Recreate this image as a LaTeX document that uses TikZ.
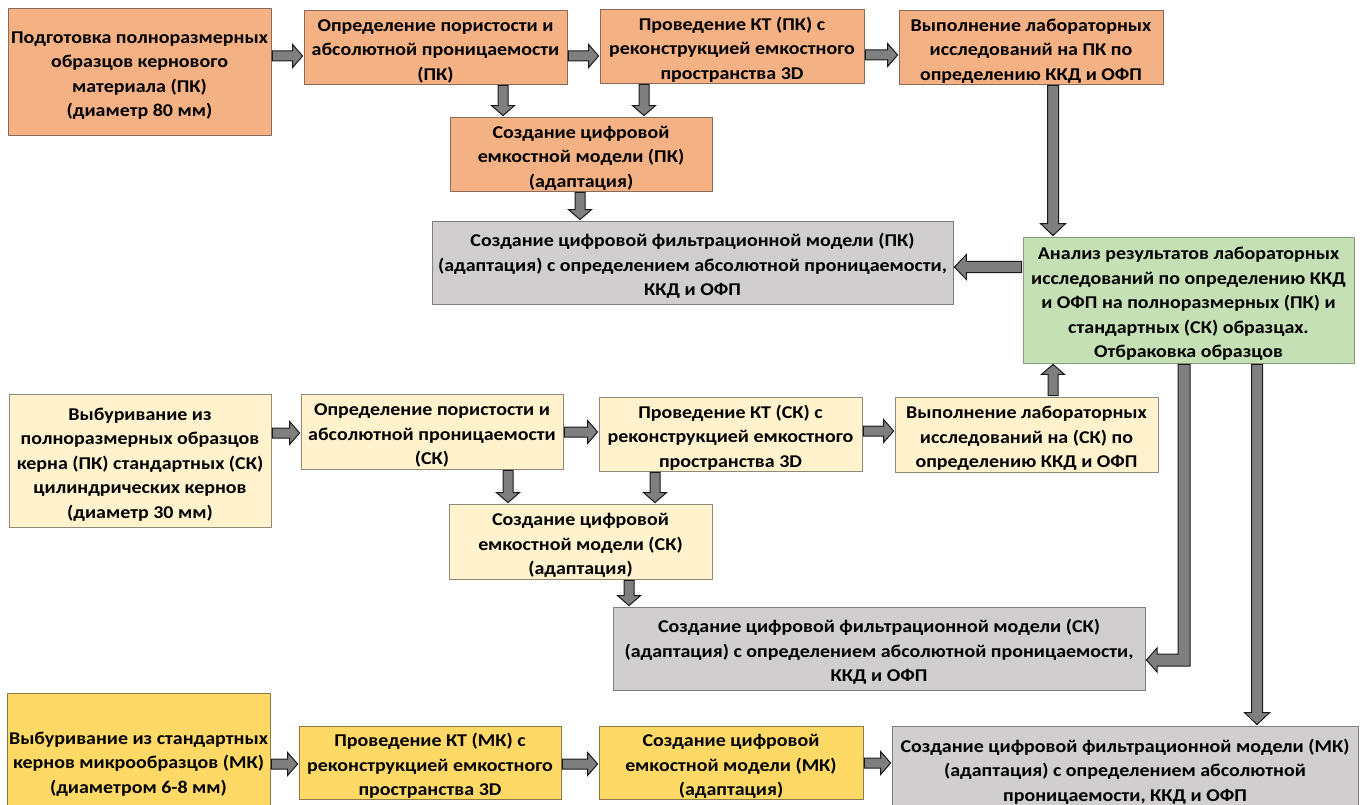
\documentclass[tikz,border=0pt]{standalone}
\usepackage{fontspec}
\setmainfont{Carlito}[FakeStretch=1.11]
\usetikzlibrary{calc}
\definecolor{orangeF}{HTML}{F4B183}
\definecolor{orangeD}{HTML}{8A6A58}
\definecolor{lyelF}{HTML}{FFF2CC}
\definecolor{lyelD}{HTML}{8F8A78}
\definecolor{yelF}{HTML}{FFD966}
\definecolor{yelD}{HTML}{8C7A4A}
\definecolor{grayF}{HTML}{D0CECE}
\definecolor{grayD}{HTML}{7F7F7F}
\definecolor{greenF}{HTML}{C5E0B4}
\definecolor{greenD}{HTML}{8A9A80}
\definecolor{arrF}{HTML}{7F7F7F}
\definecolor{arrD}{HTML}{1A1A1A}
\newcommand\tp{\rule{0pt}{20pt}}
\newcommand\blockarrow[5]{%
  \coordinate (ba0) at #4; \coordinate (bb0) at #5;
  \coordinate (ba) at ($(ba0)!1pt!(bb0)$);
  \coordinate (bb) at ($(bb0)!1pt!(ba0)$);
  \coordinate (bc) at ($(bb)!#3!(ba)$);
  \draw[barrow] ($(ba)!#1!90:(bb)$) -- ($(bc)!#1!-90:(ba)$) -- ($(bc)!#2!-90:(ba)$) -- (bb) -- ($(bc)!#2!90:(ba)$) -- ($(bc)!#1!90:(ba)$) -- ($(ba)!#1!-90:(bb)$) -- cycle;
}
\begin{document}
\begin{tikzpicture}[x=1pt,y=-1pt,
  box/.style={line width=0.8pt, inner sep=0pt, align=center,
    font=\bfseries\fontsize{18}{24.5}\selectfont},
  ora/.style={box, fill=orangeF, draw=orangeD},
  lye/.style={box, fill=lyelF, draw=lyelD},
  yel/.style={box, fill=yelF, draw=yelD},
  gry/.style={box, fill=grayF, draw=grayD},
  grn/.style={box, fill=greenF, draw=greenD},
  barrow/.style={fill=arrF, draw=arrD, line width=1pt, line join=miter}]
\useasboundingbox (0,0) rectangle (1363,805);
\clip (0,0) rectangle (1363,805);
\fill[white] (0,0) rectangle (1363,805);

% row 1
\node[ora, minimum width=263pt, minimum height=127pt] (A1) at (139.5,71.5)
  {\tp Подготовка полноразмерных\\образцов кернового\\материала (ПК)\\(диаметр 80 мм)};
\node[ora, minimum width=263pt, minimum height=74pt] (A2) at (435.5,47)
  {\tp Определение пористости и\\абсолютной проницаемости\\(ПК)};
\node[ora, minimum width=264pt, minimum height=74pt] (A3) at (732,46)
  {\tp Проведение КТ (ПК) с\\реконструкцией емкостного\\пространства 3D};
\node[ora, minimum width=264pt, minimum height=74pt] (A4) at (1031,47)
  {\tp Выполнение лабораторных\\исследований на ПК по\\определению ККД и ОФП};
\node[ora, minimum width=262pt, minimum height=74pt] (B1) at (581,154)
  {\tp Создание цифровой\\емкостной модели (ПК)\\(адаптация)};
\node[gry, minimum width=521pt, minimum height=83pt] (C1) at (692.5,262.5)
  {\tp Создание цифровой фильтрационной модели (ПК)\\(адаптация) с определением абсолютной проницаемости,\\ККД и ОФП};
\node[grn, minimum width=331pt, minimum height=126pt] (D) at (1188.5,300)
  {\tp Анализ результатов лабораторных\\исследований по определению ККД\\и ОФП на полноразмерных (ПК) и\\стандартных (СК) образцах.\\Отбраковка образцов};

% row 2
\node[lye, minimum width=262pt, minimum height=133pt] (E1) at (140,460.5)
  {\tp Выбуривание из\\полноразмерных образцов\\керна (ПК) стандартных (СК)\\цилиндрических кернов\\(диаметр 30 мм)};
\node[lye, minimum width=262pt, minimum height=75pt] (E2) at (432,431.5)
  {\tp Определение пористости и\\абсолютной проницаемости\\(СК)};
\node[lye, minimum width=263pt, minimum height=74pt] (E3) at (730.5,434)
  {\tp Проведение КТ (СК) с\\реконструкцией емкостного\\пространства 3D};
\node[lye, minimum width=263pt, minimum height=75pt] (E4) at (1026.5,434.5)
  {\tp Выполнение лабораторных\\исследований на (СК) по\\определению ККД и ОФП};
\node[lye, minimum width=263pt, minimum height=75pt] (F1) at (580.5,541.5)
  {\tp Создание цифровой\\емкостной модели (СК)\\(адаптация)};
\node[gry, minimum width=532pt, minimum height=83pt] (G1) at (879,648.5)
  {\tp Создание цифровой фильтрационной модели (СК)\\(адаптация) с определением абсолютной проницаемости,\\ККД и ОФП};

% row 3
\node[yel, minimum width=263pt, minimum height=134pt] (H1) at (138.5,760)
  {\tp Выбуривание из стандартных\\кернов микрообразцов (МК)\\(диаметром 6-8 мм)};
\node[yel, minimum width=262pt, minimum height=73pt] (H2) at (430,762.5)
  {\tp Проведение КТ (МК) с\\реконструкцией емкостного\\пространства 3D};
\node[yel, minimum width=264pt, minimum height=73pt] (H3) at (731,762.5)
  {\tp Создание цифровой\\емкостной модели (МК)\\(адаптация)};
\node[gry, minimum width=466pt, minimum height=84pt] (J) at (1125,768)
  {\tp Создание цифровой фильтрационной модели (МК)\\(адаптация) с определением абсолютной\\проницаемости, ККД и ОФП};

% small arrows
\blockarrow{5pt}{11.5pt}{10pt}{(A1.east |- 0,56)}{(A2.west |- 0,56)}
\blockarrow{5pt}{11.5pt}{10pt}{(A2.east |- 0,56)}{(A3.west |- 0,56)}
\blockarrow{5pt}{11.5pt}{10pt}{(A3.east |- 0,55)}{(A4.west |- 0,55)}
\blockarrow{5pt}{11.5pt}{10pt}{(A2.south -| 503,0)}{(B1.north -| 503,0)}
\blockarrow{5pt}{11.5pt}{10pt}{(A3.south -| 644,0)}{(B1.north -| 644,0)}
\blockarrow{5pt}{11.5pt}{10pt}{(B1.south -| 580,0)}{(C1.north -| 580,0)}
\blockarrow{5pt}{11.5pt}{10pt}{(E1.east |- 0,433)}{(E2.west |- 0,433)}
\blockarrow{5pt}{11.5pt}{10pt}{(E2.east |- 0,432)}{(E3.west |- 0,432)}
\blockarrow{5pt}{11.5pt}{10pt}{(E3.east |- 0,431)}{(E4.west |- 0,431)}
\blockarrow{5pt}{11.5pt}{10pt}{(E2.south -| 508,0)}{(F1.north -| 508,0)}
\blockarrow{5pt}{11.5pt}{10pt}{(E3.south -| 655,0)}{(F1.north -| 655,0)}
\blockarrow{5pt}{11.5pt}{10pt}{(F1.south -| 629,0)}{(G1.north -| 629,0)}
\blockarrow{5pt}{11.5pt}{10pt}{(H1.east |- 0,764)}{(H2.west |- 0,764)}
\blockarrow{5pt}{11.5pt}{10pt}{(H2.east |- 0,764)}{(H3.west |- 0,764)}
\blockarrow{5pt}{11.5pt}{10pt}{(H3.east |- 0,763)}{(J.west |- 0,763)}
\blockarrow{5pt}{11.5pt}{10pt}{(E4.north -| 1053,0)}{(D.south -| 1053,0)}
% long arrows
\blockarrow{5.5pt}{12.5pt}{12pt}{(A4.south -| 1053,0)}{(D.north -| 1053,0)}
\blockarrow{5.5pt}{12.5pt}{12pt}{(D.west |- 0,267)}{(C1.east |- 0,267)}
\blockarrow{5.5pt}{12.5pt}{12pt}{(D.south -| 1257,0)}{(J.north -| 1257,0)}
% elbow arrow D -> G1
\draw[barrow] ([yshift=-1pt]D.south -| 1178,0) -- (1178,654) -- (1157,654) -- (1157,648)
  -- ([xshift=1pt]G1.east |- 0,660) -- (1157,672) -- (1157,666) -- (1190,666)
  -- ([yshift=-1pt]D.south -| 1190,0) -- cycle;
\end{tikzpicture}
\end{document}
